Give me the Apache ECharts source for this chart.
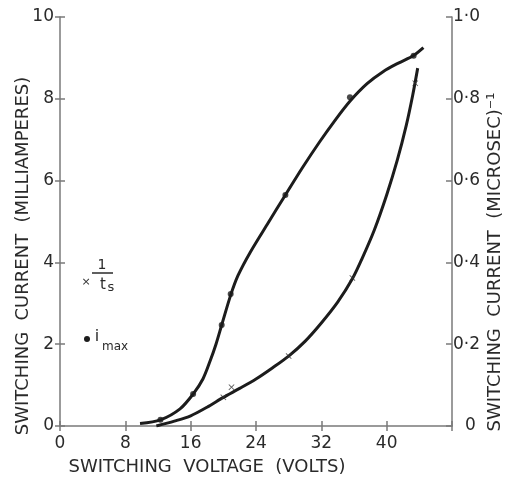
<!DOCTYPE html>
<html><head><meta charset="utf-8">
<script src="https://cdn.jsdelivr.net/npm/echarts@6/dist/echarts.min.js"></script>
<style>html,body{margin:0;padding:0;background:#fff}#c{width:514px;height:484px}</style>
</head><body><div id="c"></div>
<script>
// Switching voltage (V) vs i_max (mA, left axis) and 1/ts (microsec^-1, right axis)
const xTickValues = [0, 8, 16, 24, 32, 40];
const leftTickValues = [0, 2, 4, 6, 8, 10];
const rightTickValues = [0, 0.2, 0.4, 0.6, 0.8, 1.0];

// hand-drawn i_max curve [volts, mA]
const imaxCurve = [[9.8,0.06],[12.3,0.15],[14.7,0.42],[16.3,0.78],[17.5,1.15],[18.4,1.60],[19.1,2.00],[19.8,2.47],[20.9,3.20],[21.8,3.68],[23.3,4.25],[25.5,4.97],[27.6,5.65],[29.7,6.32],[31.8,6.95],[33.7,7.48],[35.5,7.94],[37.6,8.37],[39.6,8.67],[41.5,8.88],[43.3,9.06],[44.5,9.25]];
// measured i_max points (dots)
const imaxPoints = [[12.3,0.15],[16.3,0.78],[19.8,2.47],[20.9,3.23],[27.6,5.65],[35.5,8.04],[43.3,9.05]];

// hand-drawn 1/ts curve [volts, (microsec)^-1]
const tsCurve = [[11.8,0.0],[14.0,0.012],[16.0,0.025],[18.0,0.046],[20.0,0.07],[22.0,0.092],[24.0,0.115],[26.0,0.142],[28.0,0.171],[30.0,0.207],[32.0,0.252],[34.0,0.303],[35.8,0.36],[37.0,0.41],[38.5,0.48],[40.0,0.565],[41.3,0.65],[42.4,0.735],[43.2,0.81],[43.8,0.875]];
// measured 1/ts points (crosses)
const tsPoints = [[20.0,0.07],[21.0,0.095],[28.0,0.171],[35.8,0.362],[43.5,0.838]];

const INK = '#1c1c1c', AX = '#7a7a7a';
const FONT = 'DejaVu Sans';
const crossPath = 'path://M0,1L1,0L5,4L9,0L10,1L6,5L10,9L9,10L5,6L1,10L0,9L4,5Z';

const chart = echarts.init(document.getElementById('c'));
const baseAxisLine = {show:true, lineStyle:{color:AX, width:1.5}};
const lab = {fontFamily:FONT, fontSize:17, color:'#2a2a2a'};
chart.setOption({
  animation:false,
  backgroundColor:'#fff',
  grid:{left:60, right:62, top:17, bottom:58},
  xAxis:[
    {type:'value', min:0, max:48, interval:8, axisLine:baseAxisLine,
     axisTick:{show:true, inside:false, length:5, lineStyle:{color:AX, width:1.5}},
     splitLine:{show:false},
     axisLabel:Object.assign({margin:9, formatter:v => xTickValues.includes(v) ? String(v) : ''}, lab)},
    {type:'value', min:0, max:48, interval:8, position:'bottom', axisLine:{show:false},
     axisTick:{show:true, inside:true, length:5, lineStyle:{color:AX, width:1.5}},
     splitLine:{show:false}, axisLabel:{show:false}}
  ],
  yAxis:[
    {type:'value', min:0, max:10, interval:2, position:'left', axisLine:baseAxisLine,
     axisTick:{show:true, inside:false, length:5, lineStyle:{color:AX, width:1.5}},
     splitLine:{show:false},
     axisLabel:Object.assign({margin:6, formatter:v => leftTickValues.includes(v) ? String(v) : ''}, lab)},
    {type:'value', min:0, max:10, interval:2, position:'left', axisLine:{show:false},
     axisTick:{show:true, inside:true, length:5, lineStyle:{color:AX, width:1.5}},
     splitLine:{show:false}, axisLabel:{show:false}},
    {type:'value', min:0, max:1, interval:0.2, position:'right', axisLine:baseAxisLine,
     axisTick:{show:true, inside:true, length:6, lineStyle:{color:AX, width:1.5}},
     splitLine:{show:false},
     axisLabel:Object.assign({margin:1,
       formatter:v => {
         const r = rightTickValues.find(t => Math.abs(t - v) < 1e-6);
         if (r === undefined) return '';
         if (r === 0) return '{z|0}';
         return r.toFixed(1).replace('.', '·');
       },
       rich:{z:{padding:[0,0,0,12], fontFamily:FONT, fontSize:17, color:'#2a2a2a'}}}, lab)}
  ],
  series:[
    {type:'line', name:'imax curve', xAxisIndex:0, yAxisIndex:0, data:imaxCurve, smooth:0.3,
     showSymbol:false, lineStyle:{color:INK, width:3}, z:3},
    {type:'line', name:'ts curve', xAxisIndex:0, yAxisIndex:2, data:tsCurve, smooth:0.3,
     showSymbol:false, lineStyle:{color:INK, width:3}, z:3},
    {type:'scatter', name:'i_max', xAxisIndex:0, yAxisIndex:0, data:imaxPoints,
     symbol:'circle', symbolSize:6, itemStyle:{color:INK}, z:4},
    {type:'scatter', name:'1/ts', xAxisIndex:0, yAxisIndex:2, data:tsPoints,
     symbol:crossPath, symbolSize:6, itemStyle:{color:'#333'}, z:4}
  ],
  graphic:[
    {type:'text', x:23, y:256, rotation:Math.PI/2,
     style:{text:'SWITCHING  CURRENT  (MILLIAMPERES)', font:'18px "DejaVu Sans"', fill:'#2a2a2a', align:'center', verticalAlign:'middle'}},
    {type:'text', x:495, y:262, rotation:Math.PI/2,
     style:{text:'SWITCHING  CURRENT  (MICROSEC)⁻¹', font:'18px "DejaVu Sans"', fill:'#2a2a2a', align:'center', verticalAlign:'middle'}},
    {type:'text', x:207, y:467,
     style:{text:'SWITCHING  VOLTAGE  (VOLTS)', font:'18px "DejaVu Sans"', fill:'#2a2a2a', align:'center', verticalAlign:'middle'}},
    // legend
    {type:'text', x:86, y:282, style:{text:'×', font:'11px "DejaVu Sans"', fill:'#333', align:'center', verticalAlign:'middle'}},
    {type:'text', x:102, y:265, style:{text:'1', font:'14px "DejaVu Sans"', fill:'#2a2a2a', align:'center', verticalAlign:'middle'}},
    {type:'line', shape:{x1:92, y1:273, x2:113, y2:273}, style:{stroke:'#2a2a2a', lineWidth:1.5}},
    {type:'text', x:103, y:285, style:{text:'t', font:'15px "DejaVu Sans"', fill:'#2a2a2a', align:'center', verticalAlign:'middle'}},
    {type:'text', x:111, y:288, style:{text:'s', font:'13px "DejaVu Sans"', fill:'#2a2a2a', align:'center', verticalAlign:'middle'}},
    {type:'circle', shape:{cx:87, cy:339, r:3}, style:{fill:INK}},
    {type:'text', x:97, y:337, style:{text:'i', font:'16px "DejaVu Sans"', fill:'#2a2a2a', align:'center', verticalAlign:'middle'}},
    {type:'text', x:102, y:347, style:{text:'max', font:'12px "DejaVu Sans"', fill:'#2a2a2a', align:'left', verticalAlign:'middle'}}
  ]
});
</script></body></html>
